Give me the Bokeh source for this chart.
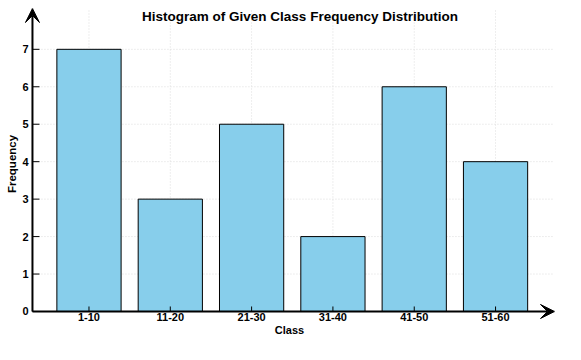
from bokeh.plotting import figure
from bokeh.models import Arrow, VeeHead, Label, FixedTicker, ColumnDataSource
from bokeh.embed import file_html
from bokeh.resources import INLINE

classes = ["1-10", "11-20", "21-30", "31-40", "41-50", "51-60"]
frequency = [7, 3, 5, 2, 6, 4]
positions = list(range(len(classes)))
y_ticks = [0, 1, 2, 3, 4, 5, 6, 7]

AX_X = -0.695   # data x where the vertical axis line sits
X0, X1 = -0.793, 5.725
Y0, Y1 = -0.214, 8.09
PX_X = 81.3     # pixels per x unit (for tick lengths)
PX_Y = 37.41    # pixels per y unit

p = figure(width=565, height=344, output_backend="svg", toolbar_location=None,
           x_range=(X0, X1), y_range=(Y0, Y1),
           min_border_left=24, min_border_right=11, min_border_top=8, min_border_bottom=25)
p.outline_line_color = None
p.background_fill_color = "white"
p.xgrid.visible = False
p.ygrid.visible = False

# faint dotted grid
n_y, n_x = len(y_ticks), len(positions)
p.segment(x0=[AX_X] * n_y, x1=[X1] * n_y, y0=y_ticks, y1=y_ticks,
          line_color="#dcdcdc", line_dash="1 2", line_width=1)
p.segment(x0=positions, x1=positions, y0=[0] * n_x, y1=[Y1] * n_x,
          line_color="#dcdcdc", line_dash="1 2", line_width=1)

src = ColumnDataSource(dict(x=positions, top=frequency, label=classes))
p.vbar(x="x", top="top", width=0.79, bottom=0, source=src,
       fill_color="#87CEEB", line_color="black", line_width=1)

# tick marks pointing inward from the axis lines
p.segment(x0=[AX_X] * n_y, x1=[AX_X + 7 / PX_X] * n_y, y0=y_ticks, y1=y_ticks,
          line_color="black", line_width=1)
p.segment(x0=positions, x1=positions, y0=[0] * n_x, y1=[5 / PX_Y] * n_x,
          line_color="black", line_width=1)

for ax in (p.xaxis[0], p.yaxis[0]):
    ax.axis_line_color = None
    ax.major_tick_line_color = None
    ax.minor_tick_line_color = None
    ax.major_tick_out = 0
    ax.major_tick_in = 0
    ax.major_label_text_font = "Liberation Sans"
    ax.major_label_text_font_style = "bold"
    ax.major_label_text_font_size = "11px"
    ax.major_label_text_color = "black"
    ax.axis_label_text_font = "Liberation Sans"
    ax.axis_label_text_font_style = "bold"
    ax.axis_label_text_font_size = "11px"
    ax.axis_label_text_color = "black"

p.xaxis.ticker = FixedTicker(ticks=positions)
p.xaxis.major_label_overrides = {i: c for i, c in zip(positions, classes)}
p.xaxis.major_label_standoff = -7
p.xaxis.axis_label = "Class"
p.xaxis.axis_label_standoff = 0

p.yaxis.ticker = FixedTicker(ticks=y_ticks)
p.yaxis.major_label_standoff = -4
p.yaxis.axis_label = "Frequency"
p.yaxis.axis_label_standoff = 1
p.yaxis.axis_label_text_font_size = "11.5px"

p.add_layout(Arrow(end=VeeHead(size=14, fill_color="black", line_color="black", line_width=1),
                   x_start=AX_X, y_start=0, x_end=AX_X, y_end=Y1,
                   line_color="black", line_width=2))
p.add_layout(Arrow(end=VeeHead(size=14, fill_color="black", line_color="black", line_width=1),
                   x_start=AX_X, y_start=0, x_end=X1, y_end=0,
                   line_color="black", line_width=2))

p.add_layout(Label(x=2.595, y=7.87, text="Histogram of Given Class Frequency Distribution",
                   text_align="center", text_baseline="middle",
                   text_font="Liberation Sans", text_font_style="bold",
                   text_font_size="13.5px", text_color="black"))

open("out.html", "w").write(file_html(p, INLINE))
